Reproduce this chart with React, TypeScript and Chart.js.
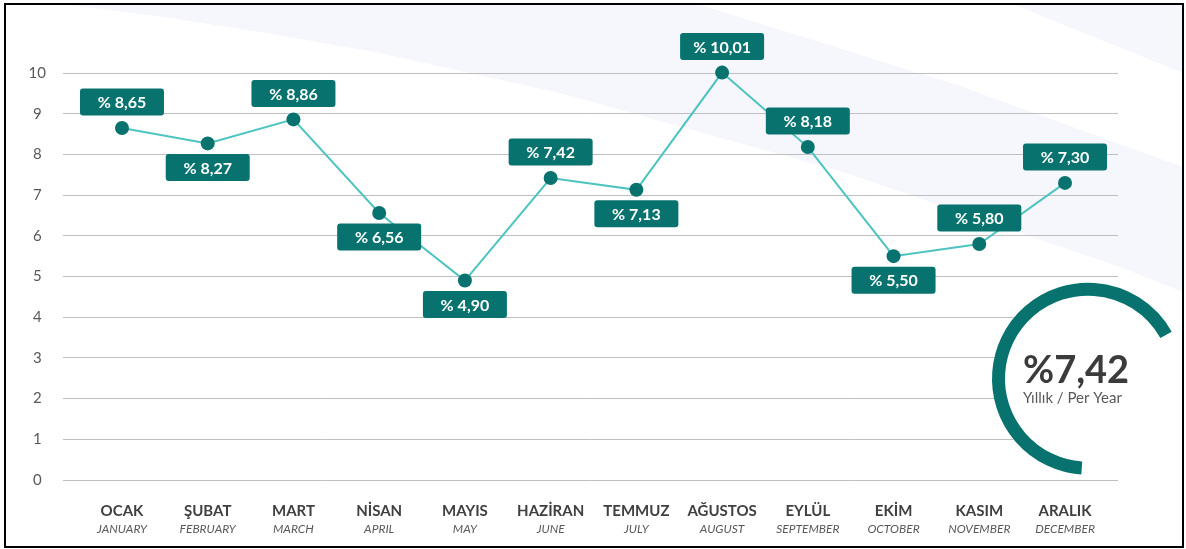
import React, { useEffect, useRef } from 'react';
import { Chart, registerables } from 'chart.js';

Chart.register(...registerables);

// ---- data ----
const monthsTR = ['OCAK', 'ŞUBAT', 'MART', 'NİSAN', 'MAYIS', 'HAZİRAN', 'TEMMUZ', 'AĞUSTOS', 'EYLÜL', 'EKİM', 'KASIM', 'ARALIK'];
const monthsEN = ['JANUARY', 'FEBRUARY', 'MARCH', 'APRIL', 'MAY', 'JUNE', 'JULY', 'AUGUST', 'SEPTEMBER', 'OCTOBER', 'NOVEMBER', 'DECEMBER'];
const monthlyRate = [8.65, 8.27, 8.86, 6.56, 4.9, 7.42, 7.13, 10.01, 8.18, 5.5, 5.8, 7.3];
const labelSide = ['above', 'below', 'above', 'below', 'below', 'above', 'below', 'above', 'above', 'below', 'above', 'above'];
const yTickValues = [0, 1, 2, 3, 4, 5, 6, 7, 8, 9, 10];
const annualRate = 7.42;
const annualCaption = 'Yıllık / Per Year';

const FONT = 'Lato, "Open Sans", sans-serif';
const TEAL = '#08736e';
const LINE = '#4dc4c0';
const LAVENDER = '#f6f6fd';

const fmt = (v: number) => v.toFixed(2).replace('.', ',');

const X_MIN = -0.688;
const X_MAX = 11.618;

const backgroundPlugin = {
  id: 'bgDecor',
  beforeDraw(chart: any) {
    const ctx = chart.ctx as CanvasRenderingContext2D;
    ctx.save();
    ctx.fillStyle = '#ffffff';
    ctx.fillRect(0, 0, chart.width, chart.height);
    ctx.fillStyle = LAVENDER;
    // big swoosh band
    ctx.beginPath();
    ctx.moveTo(70, 5);
    ctx.lineTo(700, 5);
    ctx.lineTo(800, 36);
    ctx.lineTo(960, 86);
    ctx.lineTo(1183, 167);
    ctx.lineTo(1183, 292);
    ctx.lineTo(1120, 267);
    ctx.lineTo(840, 171);
    ctx.lineTo(560, 93);
    ctx.lineTo(380, 53);
    ctx.lineTo(267, 33);
    ctx.lineTo(150, 15);
    ctx.closePath();
    ctx.fill();
    // top-right corner band
    ctx.beginPath();
    ctx.moveTo(1015, 5);
    ctx.lineTo(1183, 5);
    ctx.lineTo(1183, 73);
    ctx.closePath();
    ctx.fill();
    ctx.restore();
  },
  afterDraw(chart: any) {
    const ctx = chart.ctx as CanvasRenderingContext2D;
    ctx.save();
    ctx.strokeStyle = '#000000';
    ctx.lineWidth = 2;
    ctx.strokeRect(5, 4, 1178, 543);
    ctx.restore();
  },
};

const overlayPlugin = {
  id: 'overlay',
  afterDatasetsDraw(chart: any) {
    const ctx = chart.ctx as CanvasRenderingContext2D;
    const xs = chart.scales.x;
    const ys = chart.scales.y;
    ctx.save();
    // value boxes
    const bw = 84;
    const bh = 27;
    monthlyRate.forEach((v, i) => {
      const px = xs.getPixelForValue(i);
      const py = ys.getPixelForValue(v);
      const cy = labelSide[i] === 'above' ? py - 26 : py + 24;
      ctx.fillStyle = TEAL;
      ctx.beginPath();
      if ((ctx as any).roundRect) (ctx as any).roundRect(px - bw / 2, cy - bh / 2, bw, bh, 3);
      else ctx.rect(px - bw / 2, cy - bh / 2, bw, bh);
      ctx.fill();
      ctx.fillStyle = '#ffffff';
      ctx.font = `bold 16px ${FONT}`;
      ctx.textAlign = 'center';
      ctx.textBaseline = 'middle';
      ctx.fillText('% ' + fmt(v), px, cy + 1);
    });

    // annual gauge
    const cx = 1088;
    const cyG = 378.7;
    const rOuter = 96;
    ctx.fillStyle = '#ffffff';
    ctx.beginPath();
    ctx.arc(cx, cyG, rOuter, 0, Math.PI * 2);
    ctx.fill();
    ctx.strokeStyle = TEAL;
    ctx.lineWidth = 13;
    ctx.lineCap = 'butt';
    ctx.beginPath();
    ctx.arc(cx, cyG, rOuter - 6.5, (94 * Math.PI) / 180, (330.7 * Math.PI) / 180);
    ctx.stroke();

    ctx.fillStyle = '#3b3b3b';
    ctx.textAlign = 'left';
    ctx.textBaseline = 'alphabetic';
    ctx.font = `bold 38px ${FONT}`;
    ctx.fillText('%' + fmt(annualRate), 1023, 383);
    ctx.fillStyle = '#595959';
    ctx.font = `15px ${FONT}`;
    ctx.fillText(annualCaption, 1023, 403);
    ctx.restore();
  },
};

export default function App() {
  const canvasRef = useRef<HTMLCanvasElement | null>(null);

  useEffect(() => {
    const canvas = canvasRef.current;
    if (!canvas) return;
    const chart = new Chart(canvas, {
      type: 'line',
      data: {
        datasets: [
          {
            data: monthlyRate.map((v, i) => ({ x: i, y: v })),
            borderColor: LINE,
            borderWidth: 2,
            pointRadius: 7,
            pointHoverRadius: 7,
            pointBackgroundColor: TEAL,
            pointBorderWidth: 0,
            tension: 0,
            clip: false as any,
          },
        ],
      },
      options: {
        animation: false,
        responsive: false,
        maintainAspectRatio: false,
        devicePixelRatio: 1,
        events: [],
        layout: { padding: { left: 20, right: 68, top: 73, bottom: 0 } },
        plugins: {
          legend: { display: false },
          tooltip: { enabled: false },
        },
        scales: {
          x: {
            type: 'linear',
            position: 'bottom',
            weight: 0,
            min: X_MIN,
            max: X_MAX,
            grid: { display: false },
            border: { display: false },
            afterBuildTicks: (s: any) => {
              s.ticks = monthsTR.map((_, i) => ({ value: i }));
            },
            afterFit: (s: any) => {
              s.height = 40;
            },
            ticks: {
              autoSkip: false,
              maxRotation: 0,
              minRotation: 0,
              padding: 14,
              color: '#404040',
              font: { family: FONT, size: 15, weight: 'bold' },
              callback: (v: any) => monthsTR[v as number],
            },
          },
          x2: {
            type: 'linear',
            position: 'bottom',
            weight: 1,
            min: X_MIN,
            max: X_MAX,
            grid: { display: false },
            border: { display: false },
            afterBuildTicks: (s: any) => {
              s.ticks = monthsEN.map((_, i) => ({ value: i }));
            },
            afterFit: (s: any) => {
              s.height = 29;
            },
            ticks: {
              autoSkip: false,
              maxRotation: 0,
              minRotation: 0,
              padding: -6,
              color: '#595959',
              font: { family: FONT, size: 12, style: 'italic' },
              callback: (v: any) => monthsEN[v as number],
            },
          },
          y: {
            min: 0,
            max: 10,
            afterBuildTicks: (s: any) => {
              s.ticks = yTickValues.map((v) => ({ value: v }));
            },
            afterFit: (s: any) => {
              s.width = 43;
            },
            grid: { color: '#bfbfbf', lineWidth: 1, drawTicks: false },
            border: { display: false },
            ticks: {
              padding: 17,
              crossAlign: 'center',
              color: '#595959',
              font: { family: FONT, size: 15 },
            },
          },
        } as any,
      },
      plugins: [backgroundPlugin, overlayPlugin],
    });
    return () => chart.destroy();
  }, []);

  return (
    <div style={{ position: 'absolute', left: 0, top: 0, width: 1186, height: 549, background: '#ffffff' }}>
      <canvas ref={canvasRef} width={1186} height={549} style={{ display: 'block', width: 1186, height: 549 }} />
    </div>
  );
}
